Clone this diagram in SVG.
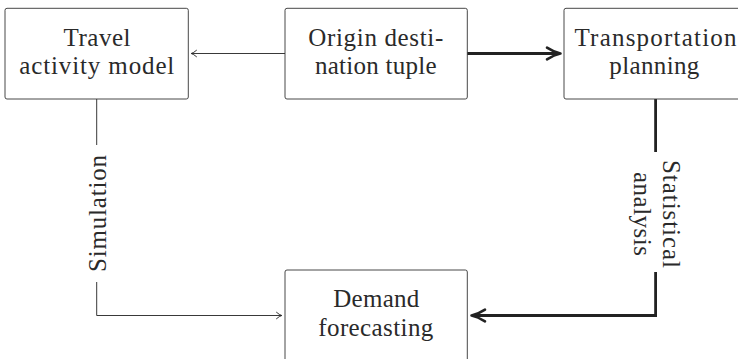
<svg xmlns="http://www.w3.org/2000/svg" width="738" height="359" viewBox="0 0 738 359">
<defs>
<style>
.box{fill:#fff;stroke:#333;stroke-width:0.9}
.t{font-family:"Liberation Serif","Times New Roman",serif;font-size:25px;fill:#2a2a2a;text-anchor:middle}
.thin{fill:none;stroke:#222;stroke-width:0.9}
.thick{fill:none;stroke:#222;stroke-width:2.8}
</style>
<marker id="ah" markerUnits="userSpaceOnUse" orient="auto" refX="0" refY="0" markerWidth="20" markerHeight="20" viewBox="-10 -10 20 20" overflow="visible">
<path d="M-5,-3.2 Q-2,-0.6 0.3,0 Q-2,0.6 -5,3.2" fill="none" stroke="#222" stroke-width="0.9" stroke-linecap="round"/>
</marker>
<marker id="ahb" markerUnits="userSpaceOnUse" orient="auto" refX="0" refY="0" markerWidth="30" markerHeight="30" viewBox="-15 -15 30 30" overflow="visible">
<path d="M-12,-5.8 Q-5,-1.2 1.5,0 Q-5,1.2 -12,5.8" fill="none" stroke="#222" stroke-width="2.6" stroke-linecap="round" stroke-linejoin="round"/>
</marker>
</defs>
<g id="connectors">
<line class="thin" x1="285" y1="53.5" x2="191.5" y2="53.5" marker-end="url(#ah)"/>
<line class="thick" x1="467" y1="53.5" x2="559" y2="53.5" marker-end="url(#ahb)"/>
<path class="thin" d="M96.7,99 V145"/>
<path class="thin" d="M96.7,282 V315.5 H281.5" marker-end="url(#ah)"/>
<path class="thick" d="M655.6,99 V152"/>
<path class="thick" d="M655.6,272 V315.5 H473" marker-end="url(#ahb)"/>
<text class="t" transform="translate(106.3,213.5) rotate(-90)" textLength="117" lengthAdjust="spacing">Simulation</text>
<text class="t" transform="translate(663,214) rotate(90)"><tspan x="0" y="0" textLength="108" lengthAdjust="spacing">Statistical</tspan><tspan x="0" y="28.7" textLength="84" lengthAdjust="spacing">analysis</tspan></text>
</g>
<g id="travel">
<rect class="box" x="5" y="8.3" width="183.3" height="90.7" rx="2"/>
<text class="t"><tspan x="97" y="45.6" textLength="67" lengthAdjust="spacing">Travel</tspan><tspan x="96.8" y="74.3" textLength="155" lengthAdjust="spacing">activity model</tspan></text>
</g>
<g id="origin">
<rect class="box" x="285" y="8.3" width="182.3" height="90.7" rx="2"/>
<text class="t"><tspan x="375.8" y="45.6" textLength="135" lengthAdjust="spacing">Origin desti-</tspan><tspan x="375.8" y="74.3" textLength="121.7" lengthAdjust="spacing">nation tuple</tspan></text>
</g>
<g id="transport">
<rect class="box" x="564" y="8.3" width="183" height="90.7" rx="2"/>
<text class="t"><tspan x="655.5" y="45.6" textLength="162" lengthAdjust="spacing">Transportation</tspan><tspan x="654.3" y="74.3" textLength="90" lengthAdjust="spacing">planning</tspan></text>
</g>
<g id="demand">
<rect class="box" x="285" y="270" width="182.3" height="91" rx="2"/>
<text class="t"><tspan x="376.3" y="307" textLength="86" lengthAdjust="spacing">Demand</tspan><tspan x="375.8" y="335.7" textLength="115" lengthAdjust="spacing">forecasting</tspan></text>
</g>
</svg>
